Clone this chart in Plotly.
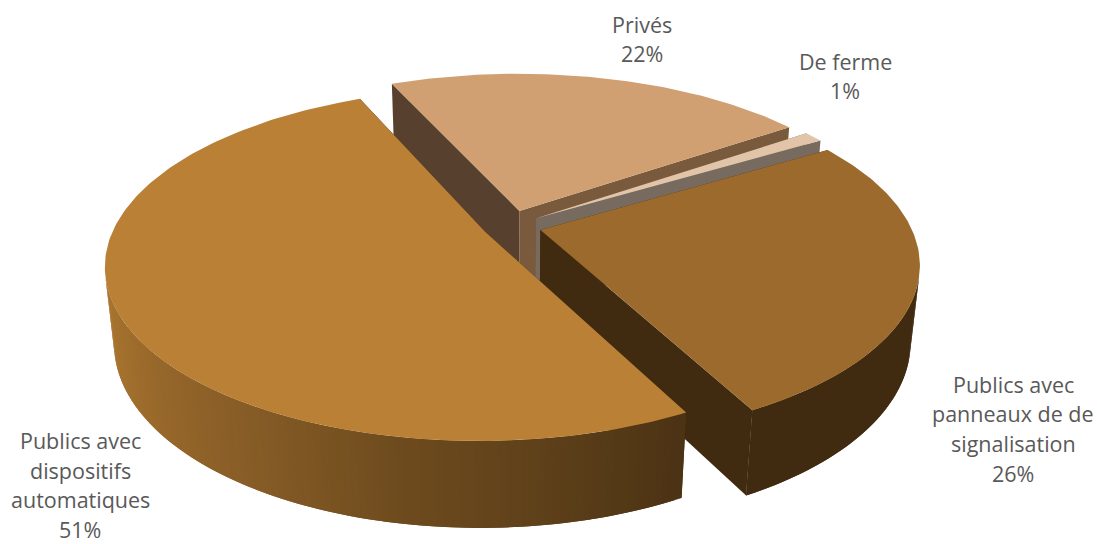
import math
import plotly.graph_objects as go

# Chart data, drawn clockwise from the first slice
categories = ["Publics avec dispositifs automatiques", "Privés", "De ferme",
              "Publics avec panneaux de de signalisation"]
shares = [51, 22, 1, 26]
label_lines = [["Publics avec", "dispositifs", "automatiques"],
               ["Privés"],
               ["De ferme"],
               ["Publics avec", "panneaux de de", "signalisation"]]

# Slice styling
top_colors = ["#BA8036", "#D0A072", "#E2C4A8", "#9B6A2C"]
left_wall_colors = ["#402B11", "#58402E", "#776A5F", "#402B11"]
right_wall_colors = ["#402B11", "#7A5A3C", "#776A5F", "#402B11"]
# Outer rim shading as (angle in degrees, colour) stops, per slice
rim_stops = [
    [(152, (0x4B, 0x32, 0x14)), (170, (0x5C, 0x3F, 0x19)), (190, (0x6E, 0x4B, 0x1E)),
     (210, (0x85, 0x5B, 0x26)), (240, (0xA0, 0x6E, 0x2D)), (270, (0xB5, 0x7D, 0x34)),
     (336, (0xB5, 0x7D, 0x34))],
    [(335, (0x7A, 0x5A, 0x3C)), (415, (0x7A, 0x5A, 0x3C))],
    [(54, (0x77, 0x6A, 0x5F)), (59, (0x77, 0x6A, 0x5F))],
    [(58, (0x40, 0x2B, 0x11)), (153, (0x40, 0x2B, 0x11))],
]
label_centers = [(80, 440.5), (642, 24), (845, 61), (1013, 384)]
LINE_GAP = 29.7

# Camera and pie geometry
CX, CY = 510, 226
SCALE = 370
ELEV = math.radians(27)
DIST = 4.76
THICK = 0.233
explode = [0.075, 0.095, 0.085, 0.085]
START_ANGLE = 152.5


def project(x, y, z):
    """Perspective projection of a pie-space point to pixel coordinates."""
    w = DIST + y * math.cos(ELEV) - z * math.sin(ELEV)
    s = DIST / w
    return CX + SCALE * x * s, CY - SCALE * (y * math.sin(ELEV) + z * math.cos(ELEV)) * s


def rim_color(stops, t):
    if t <= stops[0][0]:
        c = stops[0][1]
    elif t >= stops[-1][0]:
        c = stops[-1][1]
    else:
        for (a0, c0), (a1, c1) in zip(stops, stops[1:]):
            if a0 <= t <= a1:
                f = (t - a0) / (a1 - a0)
                c = tuple(c0[i] + (c1[i] - c0[i]) * f for i in range(3))
                break
    return "rgb(%d,%d,%d)" % tuple(round(v) for v in c)


fig = go.Figure()


def add_poly(points, color):
    xs = [p[0] for p in points] + [points[0][0]]
    ys = [p[1] for p in points] + [points[0][1]]
    fig.add_trace(go.Scatter(x=xs, y=ys, mode="lines", fill="toself", fillcolor=color,
                             line=dict(width=0), hoverinfo="skip", showlegend=False))


def faces_camera(t, ox, oy):
    """True when the rim at angle t turns towards the viewer."""
    r = math.radians(t)
    nx, ny = math.sin(r), math.cos(r)
    cam_y = -DIST * math.cos(ELEV)
    return nx * (0 - (ox + nx)) + ny * (cam_y - (oy + ny)) > 0


# Angular span of every slice, derived from its share
spans = []
angle = START_ANGLE
for share in shares:
    sweep = share / sum(shares) * 360
    spans.append((angle, angle + sweep))
    angle += sweep

# Back slices first so the nearer ones cover them
for idx in [1, 2, 3, 0]:
    a0, a1 = spans[idx]
    mid = math.radians((a0 + a1) / 2)
    ox, oy = explode[idx] * math.sin(mid), explode[idx] * math.cos(mid)

    def rim(t, z):
        r = math.radians(t)
        return project(ox + math.sin(r), oy + math.cos(r), z)

    n = max(2, int(a1 - a0))
    ticks = [a0 + (a1 - a0) * i / n for i in range(n + 1)]

    # Cut faces
    apex_top = project(ox, oy, 0)
    apex_low = project(ox, oy, -THICK)
    add_poly([apex_top, rim(a0, 0), rim(a0, -THICK), apex_low], left_wall_colors[idx])
    add_poly([apex_top, rim(a1, 0), rim(a1, -THICK), apex_low], right_wall_colors[idx])

    # Outer rim in strips; each strip runs under the next to hide seams
    for t0, t1 in zip(ticks, ticks[1:]):
        if not faces_camera((t0 + t1) / 2, ox, oy):
            continue
        t_over = min(t1 + 1.0, a1)
        add_poly([rim(t0, 0), rim(t_over, 0), rim(t_over, -THICK), rim(t0, -THICK)],
                 rim_color(rim_stops[idx], (t0 + t1) / 2))

    add_poly([apex_top] + [rim(t, 0) for t in ticks], top_colors[idx])

# Category labels with their percentages
for lines, share, (lx, ly) in zip(label_lines, shares, label_centers):
    for row, text in enumerate(lines + [f"{share}%"]):
        fig.add_annotation(x=lx, y=ly + row * LINE_GAP, text=text, showarrow=False,
                           xanchor="center", yanchor="middle",
                           font=dict(family="Open Sans", size=21.5, color="#595959", weight=500))

fig.update_layout(
    width=1097, height=544, margin=dict(l=0, r=0, t=0, b=0),
    paper_bgcolor="white", plot_bgcolor="white", showlegend=False,
    xaxis=dict(range=[0, 1097], visible=False, fixedrange=True),
    yaxis=dict(range=[544, 0], visible=False, fixedrange=True),
)
fig.write_html("out.html", config=dict(displayModeBar=False))
